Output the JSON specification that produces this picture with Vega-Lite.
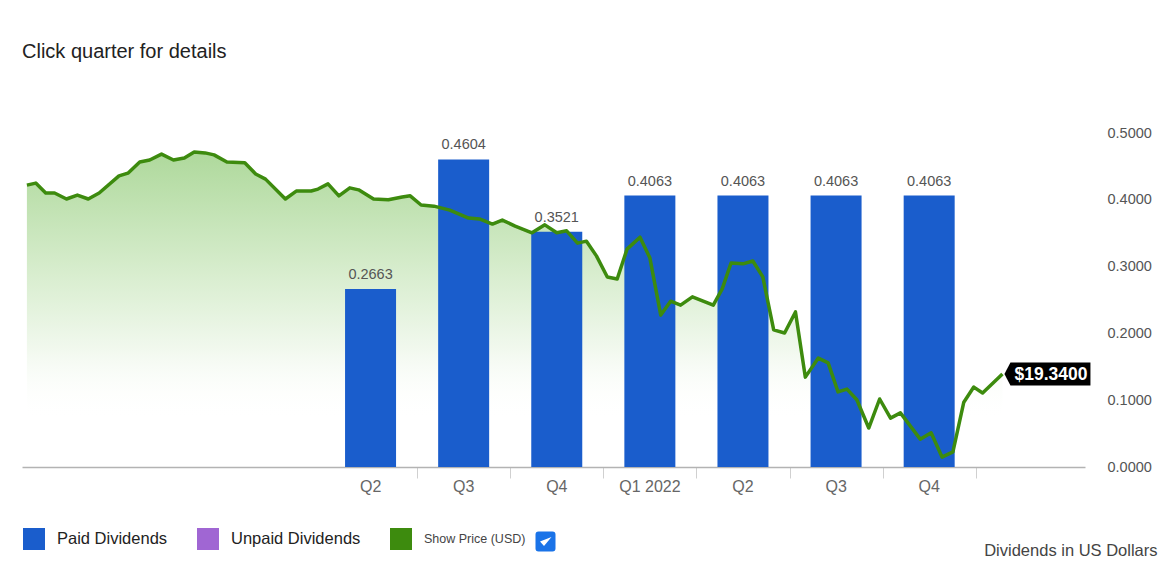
{
  "$schema": "https://vega.github.io/schema/vega-lite/v6.json",
  "width": 1063,
  "height": 334,
  "autosize": {"type": "none"},
  "padding": {"left": 22, "top": 133, "right": 75, "bottom": 104},
  "background": "white",
  "config": {"font": "Liberation Sans", "view": {"stroke": null}},
  "title": {"text": "Click quarter for details", "anchor": "start", "frame": "group", "fontSize": 20, "fontWeight": "normal", "color": "#222222", "offset": 63, "font": "Liberation Sans"},
  "datasets": {
    "dividends": [
      {"t": 0.5, "quarter": "Q2 2021", "div": 0.2663},
      {"t": 1.5, "quarter": "Q3 2021", "div": 0.4604},
      {"t": 2.5, "quarter": "Q4 2021", "div": 0.3521},
      {"t": 3.5, "quarter": "Q1 2022", "div": 0.4063},
      {"t": 4.5, "quarter": "Q2 2022", "div": 0.4063},
      {"t": 5.5, "quarter": "Q3 2022", "div": 0.4063},
      {"t": 6.5, "quarter": "Q4 2022", "div": 0.4063}
    ],
    "price": [
      {"t": -3.191, "price": 24.09}, {"t": -3.096, "price": 24.14}, {"t": -2.989, "price": 23.89}, {"t": -2.894, "price": 23.89},
      {"t": -2.766, "price": 23.74}, {"t": -2.649, "price": 23.84}, {"t": -2.532, "price": 23.74}, {"t": -2.415, "price": 23.89},
      {"t": -2.202, "price": 24.32}, {"t": -2.106, "price": 24.39}, {"t": -1.979, "price": 24.67}, {"t": -1.872, "price": 24.72},
      {"t": -1.745, "price": 24.87}, {"t": -1.617, "price": 24.72}, {"t": -1.5, "price": 24.77}, {"t": -1.394, "price": 24.92},
      {"t": -1.277, "price": 24.9}, {"t": -1.181, "price": 24.85}, {"t": -1.043, "price": 24.67}, {"t": -0.851, "price": 24.65},
      {"t": -0.734, "price": 24.37}, {"t": -0.628, "price": 24.24}, {"t": -0.415, "price": 23.74}, {"t": -0.298, "price": 23.94},
      {"t": -0.138, "price": 23.94}, {"t": -0.064, "price": 23.99}, {"t": 0.043, "price": 24.12}, {"t": 0.16, "price": 23.82},
      {"t": 0.277, "price": 24.02}, {"t": 0.372, "price": 23.97}, {"t": 0.532, "price": 23.74}, {"t": 0.691, "price": 23.72},
      {"t": 0.84, "price": 23.79}, {"t": 0.926, "price": 23.82}, {"t": 1.043, "price": 23.59}, {"t": 1.181, "price": 23.56},
      {"t": 1.351, "price": 23.46}, {"t": 1.553, "price": 23.26}, {"t": 1.67, "price": 23.24}, {"t": 1.809, "price": 23.11},
      {"t": 1.915, "price": 23.21}, {"t": 2.053, "price": 23.06}, {"t": 2.234, "price": 22.89}, {"t": 2.372, "price": 23.09},
      {"t": 2.5, "price": 22.89}, {"t": 2.606, "price": 22.94}, {"t": 2.723, "price": 22.63}, {"t": 2.819, "price": 22.68},
      {"t": 2.926, "price": 22.31}, {"t": 3.043, "price": 21.78}, {"t": 3.149, "price": 21.73}, {"t": 3.255, "price": 22.48},
      {"t": 3.394, "price": 22.78}, {"t": 3.5, "price": 22.26}, {"t": 3.617, "price": 20.82}, {"t": 3.723, "price": 21.17},
      {"t": 3.83, "price": 21.07}, {"t": 3.957, "price": 21.28}, {"t": 4.181, "price": 21.07}, {"t": 4.277, "price": 21.48},
      {"t": 4.372, "price": 22.13}, {"t": 4.5, "price": 22.11}, {"t": 4.606, "price": 22.18}, {"t": 4.713, "price": 21.78},
      {"t": 4.83, "price": 20.45}, {"t": 4.947, "price": 20.37}, {"t": 5.064, "price": 20.9}, {"t": 5.17, "price": 19.26},
      {"t": 5.309, "price": 19.74}, {"t": 5.415, "price": 19.62}, {"t": 5.521, "price": 18.89}, {"t": 5.617, "price": 18.96},
      {"t": 5.723, "price": 18.69}, {"t": 5.851, "price": 17.98}, {"t": 5.968, "price": 18.71}, {"t": 6.085, "price": 18.23},
      {"t": 6.191, "price": 18.36}, {"t": 6.404, "price": 17.7}, {"t": 6.521, "price": 17.86}, {"t": 6.638, "price": 17.25},
      {"t": 6.755, "price": 17.38}, {"t": 6.872, "price": 18.63}, {"t": 6.979, "price": 19.01}, {"t": 7.074, "price": 18.86},
      {"t": 7.287, "price": 19.34}
    ]
  },
  "layer": [
    {
      "data": {"name": "price"},
      "mark": {"type": "area", "fillOpacity": 0.85, "color": {"gradient": "linear", "x1": 0, "y1": 0, "x2": 0, "y2": 1, "stops": [{"offset": 0, "color": "#a0d28a"}, {"offset": 0.4, "color": "#d3ebc8"}, {"offset": 0.62, "color": "#eef7ea"}, {"offset": 0.85, "color": "rgba(255,255,255,0)"}, {"offset": 1, "color": "rgba(255,255,255,0)"}]}},
      "encoding": {
        "x": {"field": "t", "type": "quantitative", "scale": {"domain": [-3.19, 8.12], "nice": false, "zero": false},
          "axis": {"values": [1, 2, 3, 4, 5, 6, 7], "labelExpr": "['','Q2','Q3','Q4','Q1 2022','Q2','Q3','Q4'][datum.value]", "labelOffset": -47, "labelFlush": false, "labelOverlap": false, "labelBound": false, "labelFontSize": 16, "labelColor": "#666666", "labelFont": "Liberation Sans", "labelPadding": 0, "tickSize": 11, "tickColor": "#d0d0d0", "tickWidth": 1, "domainColor": "#b3b3b3", "domainWidth": 1.5, "grid": false, "title": "Dividends in US Dollars", "titleX": 1135, "titleY": 83, "titleAlign": "right", "titleBaseline": "middle", "titleFontSize": 16.5, "titleFontWeight": "normal", "titleColor": "#444444", "titleFont": "Liberation Sans"}},
        "y": {"field": "price", "type": "quantitative", "scale": {"domain": [17, 25.4], "nice": false, "zero": false}, "axis": null},
        "y2": {"datum": 17}
      }
    },
    {
      "data": {"name": "dividends"},
      "mark": {"type": "bar", "size": 51},
      "encoding": {
        "x": {"field": "t", "type": "quantitative", "scale": {"domain": [-3.19, 8.12], "nice": false, "zero": false},
          "axis": {"values": [1, 2, 3, 4, 5, 6, 7], "labelExpr": "['','Q2','Q3','Q4','Q1 2022','Q2','Q3','Q4'][datum.value]", "labelOffset": -47, "labelFlush": false, "labelOverlap": false, "labelBound": false, "labelFontSize": 16, "labelColor": "#666666", "labelFont": "Liberation Sans", "labelPadding": 0, "tickSize": 11, "tickColor": "#d0d0d0", "tickWidth": 1, "domainColor": "#b3b3b3", "domainWidth": 1.5, "grid": false, "title": "Dividends in US Dollars", "titleX": 1135, "titleY": 83, "titleAlign": "right", "titleBaseline": "middle", "titleFontSize": 16.5, "titleFontWeight": "normal", "titleColor": "#444444", "titleFont": "Liberation Sans"}},
        "y": {"field": "div", "type": "quantitative", "scale": {"domain": [0, 0.5], "nice": false},
          "axis": {"orient": "right", "values": [0, 0.1, 0.2, 0.3, 0.4, 0.5], "format": ".4f", "ticks": false, "tickSize": 0, "domain": false, "labelPadding": 22, "labelFontSize": 14.5, "labelColor": "#555555", "labelFont": "Liberation Sans", "gridColor": "#e6e6e6", "title": null}},
        "color": {"datum": "Paid Dividends", "type": "nominal",
          "scale": {"domain": ["Paid Dividends", "Unpaid Dividends", "Show Price (USD)"], "range": ["#1a5dcc", "#a066d3", "#3d8b0e"]},
          "legend": {"orient": "none", "legendX": 1, "legendY": 395, "direction": "horizontal", "title": null, "symbolType": "square", "symbolSize": 484, "symbolStrokeWidth": 0, "labelFontSize": 16.5, "labelColor": "#222222", "labelFont": "Liberation Sans", "labelOffset": 12, "columnPadding": 29, "padding": 0,
            "encode": {"labels": {"update": {"fontSize": {"signal": "datum.label === 'Show Price (USD)' ? 12.5 : 16.5"}, "fill": {"signal": "datum.label === 'Show Price (USD)' ? '#444444' : '#222222'"}}}}}}
      }
    },
    {
      "data": {"name": "dividends"},
      "mark": {"type": "text", "baseline": "middle", "dy": -14, "fontSize": 14.5, "color": "#555555", "font": "Liberation Sans"},
      "encoding": {
        "x": {"field": "t", "type": "quantitative", "scale": {"domain": [-3.19, 8.12], "nice": false, "zero": false},
          "axis": {"values": [1, 2, 3, 4, 5, 6, 7], "labelExpr": "['','Q2','Q3','Q4','Q1 2022','Q2','Q3','Q4'][datum.value]", "labelOffset": -47, "labelFlush": false, "labelOverlap": false, "labelBound": false, "labelFontSize": 16, "labelColor": "#666666", "labelFont": "Liberation Sans", "labelPadding": 0, "tickSize": 11, "tickColor": "#d0d0d0", "tickWidth": 1, "domainColor": "#b3b3b3", "domainWidth": 1.5, "grid": false, "title": "Dividends in US Dollars", "titleX": 1135, "titleY": 83, "titleAlign": "right", "titleBaseline": "middle", "titleFontSize": 16.5, "titleFontWeight": "normal", "titleColor": "#444444", "titleFont": "Liberation Sans"}},
        "y": {"field": "div", "type": "quantitative", "scale": {"domain": [0, 0.5], "nice": false}, "axis": null},
        "text": {"field": "div", "type": "quantitative", "format": ".4f"}
      }
    },
    {
      "data": {"name": "dividends"},
      "transform": [{"filter": "false"}],
      "mark": {"type": "point", "shape": "M-1,-0.7Q-1,-1 -0.7,-1L0.7,-1Q1,-1 1,-0.7L1,0.7Q1,1 0.7,1L-0.7,1Q-1,1 -1,0.7ZM-0.55,0L-0.15,0.45L0.6,-0.45", "filled": true, "color": "#1a73e8", "stroke": "#ffffff", "strokeWidth": 2.6, "opacity": 1},
      "encoding": {
        "x": {"field": "t", "type": "quantitative", "scale": {"domain": [-3.19, 8.12], "nice": false, "zero": false},
          "axis": {"values": [1, 2, 3, 4, 5, 6, 7], "labelExpr": "['','Q2','Q3','Q4','Q1 2022','Q2','Q3','Q4'][datum.value]", "labelOffset": -47, "labelFlush": false, "labelOverlap": false, "labelBound": false, "labelFontSize": 16, "labelColor": "#666666", "labelFont": "Liberation Sans", "labelPadding": 0, "tickSize": 11, "tickColor": "#d0d0d0", "tickWidth": 1, "domainColor": "#b3b3b3", "domainWidth": 1.5, "grid": false, "title": "Dividends in US Dollars", "titleX": 1135, "titleY": 83, "titleAlign": "right", "titleBaseline": "middle", "titleFontSize": 16.5, "titleFontWeight": "normal", "titleColor": "#444444", "titleFont": "Liberation Sans"}},
        "y": {"field": "div", "type": "quantitative", "scale": {"domain": [0, 0.5], "nice": false}, "axis": null},
        "opacity": {"datum": "checked", "type": "ordinal", "scale": {"range": [1, 1]},
          "legend": {"orient": "none", "legendX": 512, "legendY": 397, "title": null, "labelExpr": "''", "symbolSize": 400, "symbolType": "M-1,-0.7Q-1,-1 -0.7,-1L0.7,-1Q1,-1 1,-0.7L1,0.7Q1,1 0.7,1L-0.7,1Q-1,1 -1,0.7ZM-0.55,0L-0.15,0.45L0.6,-0.45", "symbolFillColor": "#1a73e8", "symbolStrokeColor": "#ffffff", "symbolStrokeWidth": 2.6, "symbolOpacity": 1, "padding": 0, "labelOffset": 0}}
      }
    },
    {
      "data": {"name": "price"},
      "mark": {"type": "line", "color": "#3d8b0e", "strokeWidth": 3.5, "strokeJoin": "round"},
      "encoding": {
        "x": {"field": "t", "type": "quantitative", "scale": {"domain": [-3.19, 8.12], "nice": false, "zero": false},
          "axis": {"values": [1, 2, 3, 4, 5, 6, 7], "labelExpr": "['','Q2','Q3','Q4','Q1 2022','Q2','Q3','Q4'][datum.value]", "labelOffset": -47, "labelFlush": false, "labelOverlap": false, "labelBound": false, "labelFontSize": 16, "labelColor": "#666666", "labelFont": "Liberation Sans", "labelPadding": 0, "tickSize": 11, "tickColor": "#d0d0d0", "tickWidth": 1, "domainColor": "#b3b3b3", "domainWidth": 1.5, "grid": false, "title": "Dividends in US Dollars", "titleX": 1135, "titleY": 83, "titleAlign": "right", "titleBaseline": "middle", "titleFontSize": 16.5, "titleFontWeight": "normal", "titleColor": "#444444", "titleFont": "Liberation Sans"}},
        "y": {"field": "price", "type": "quantitative", "scale": {"domain": [17, 25.4], "nice": false, "zero": false}, "axis": null}
      }
    },
    {
      "data": {"name": "price"},
      "transform": [{"filter": "datum.t > 7.2"}],
      "mark": {"type": "point", "shape": "M2,0L8,-11.5L88,-11.5L88,11.5L8,11.5Z", "size": 4, "filled": true, "color": "#000000", "opacity": 1, "strokeWidth": 0},
      "encoding": {
        "x": {"field": "t", "type": "quantitative", "scale": {"domain": [-3.19, 8.12], "nice": false, "zero": false},
          "axis": {"values": [1, 2, 3, 4, 5, 6, 7], "labelExpr": "['','Q2','Q3','Q4','Q1 2022','Q2','Q3','Q4'][datum.value]", "labelOffset": -47, "labelFlush": false, "labelOverlap": false, "labelBound": false, "labelFontSize": 16, "labelColor": "#666666", "labelFont": "Liberation Sans", "labelPadding": 0, "tickSize": 11, "tickColor": "#d0d0d0", "tickWidth": 1, "domainColor": "#b3b3b3", "domainWidth": 1.5, "grid": false, "title": "Dividends in US Dollars", "titleX": 1135, "titleY": 83, "titleAlign": "right", "titleBaseline": "middle", "titleFontSize": 16.5, "titleFontWeight": "normal", "titleColor": "#444444", "titleFont": "Liberation Sans"}},
        "y": {"field": "price", "type": "quantitative", "scale": {"domain": [17, 25.4], "nice": false, "zero": false}, "axis": null}
      }
    },
    {
      "data": {"name": "price"},
      "transform": [{"filter": "datum.t > 7.2"}],
      "mark": {"type": "text", "align": "left", "baseline": "middle", "dx": 12, "dy": 1, "color": "#ffffff", "fontWeight": "bold", "fontSize": 17.5, "font": "Liberation Sans"},
      "encoding": {
        "x": {"field": "t", "type": "quantitative", "scale": {"domain": [-3.19, 8.12], "nice": false, "zero": false},
          "axis": {"values": [1, 2, 3, 4, 5, 6, 7], "labelExpr": "['','Q2','Q3','Q4','Q1 2022','Q2','Q3','Q4'][datum.value]", "labelOffset": -47, "labelFlush": false, "labelOverlap": false, "labelBound": false, "labelFontSize": 16, "labelColor": "#666666", "labelFont": "Liberation Sans", "labelPadding": 0, "tickSize": 11, "tickColor": "#d0d0d0", "tickWidth": 1, "domainColor": "#b3b3b3", "domainWidth": 1.5, "grid": false, "title": "Dividends in US Dollars", "titleX": 1135, "titleY": 83, "titleAlign": "right", "titleBaseline": "middle", "titleFontSize": 16.5, "titleFontWeight": "normal", "titleColor": "#444444", "titleFont": "Liberation Sans"}},
        "y": {"field": "price", "type": "quantitative", "scale": {"domain": [17, 25.4], "nice": false, "zero": false}, "axis": null},
        "text": {"field": "price", "type": "quantitative", "format": "$.4f"}
      }
    }
  ],
  "resolve": {"scale": {"y": "independent"}}
}
